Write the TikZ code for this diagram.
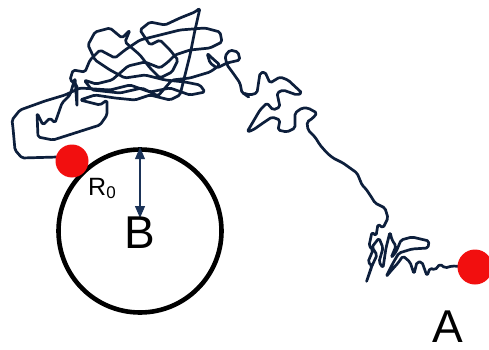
\documentclass[tikz,border=0pt]{standalone}
\usepackage{fontspec}
\setmainfont{Liberation Sans}
\usetikzlibrary{arrows.meta}
\definecolor{walk}{HTML}{0D1F3C}
\definecolor{arrowblue}{HTML}{1B3358}
\definecolor{dotred}{HTML}{F20F0F}
\tikzset{
  walkline/.style={draw=walk, line width=2.7pt, line join=round, line cap=round, rounded corners=1.8pt},
  reddot/.style={circle, fill=dotred, inner sep=0pt, minimum size=#1},
  bigletter/.style={font=\fontsize{46}{46}\selectfont, inner sep=0pt},
  radius arrow/.style={draw=arrowblue, line width=1.1pt, {Triangle[width=10pt,length=12pt]}-{Triangle[width=10pt,length=12pt]}}
}
\begin{document}
\begin{tikzpicture}[x=1pt,y=-1pt]
\useasboundingbox (0,0) rectangle (489,350);

% absorbing sphere
\node[circle, draw=black, line width=4.6pt, minimum size=163pt, inner sep=0pt] (disk) at (140,231) {};
\coordinate (rtip) at (140,218);

% random walk trajectory
\draw[walkline] (72,161) -- (58,157) -- (22,158) -- (15,150) -- (13,128) -- (12,120) -- (20,110) -- (45,101) -- (65,95)
  -- (80,88) -- (110,90) -- (130,85) -- (150,92) -- (170,88) -- (190,95) -- (205,92) -- (200,85) -- (185,82)
  -- (165,80) -- (145,75) -- (125,78) -- (110,70) -- (95,60) -- (88,45) -- (95,32) -- (110,28) -- (122,38)
  -- (130,30) -- (125,42) -- (140,55) -- (150,68) -- (160,78) -- (172,72) -- (178,60) -- (170,50) -- (160,40)
  -- (150,45) -- (140,30) -- (150,22) -- (165,25) -- (180,18) -- (195,12) -- (200,8) -- (195,30) -- (190,55)
  -- (185,75) -- (180,95) -- (170,100) -- (150,95) -- (135,100) -- (115,98) -- (95,95) -- (80,100)
  -- (100,105) -- (107,100) -- (107,115) -- (100,125) -- (53,140) -- (38,137) -- (37,113) -- (43,125)
  -- (50,118) -- (55,123) -- (62,103) -- (70,95) -- (75,78) -- (77,107) -- (77,85)
  -- (70,80) -- (73,70) -- (85,72) -- (90,60) -- (100,50) -- (115,58) -- (125,50) -- (140,40) -- (160,35)
  -- (180,30) -- (205,28) -- (220,32) -- (222,42) -- (210,48) -- (190,50) -- (175,55) -- (168,62) -- (160,68)
  -- (145,62) -- (128,66) -- (112,80) -- (96,84) -- (84,80) -- (92,90) -- (120,93) -- (142,88) -- (158,96)
  -- (172,80) -- (190,78) -- (210,72) -- (220,65) -- (212,58) -- (207,53) -- (210,63) -- (217,68) -- (227,63)
  -- (240,60) -- (238,52) -- (230,50) -- (225,56) -- (227,65) -- (233,73) -- (240,83) -- (242,93) -- (247,95)
  -- (250,98) -- (243,93) -- (250,95) -- (257,93) -- (260,73) -- (265,72) -- (270,83) -- (280,77) -- (288,80)
  -- (302,93) -- (297,95) -- (283,90) -- (277,93) -- (280,107) -- (273,110) -- (267,103) -- (260,110)
  -- (250,127) -- (247,132) -- (253,130) -- (263,123) -- (272,117) -- (280,120) -- (278,130) -- (287,132)
  -- (295,128) -- (295,113) -- (302,108) -- (308,108) -- (317,113) -- (313,118) -- (307,122) -- (308,130)
  -- (315,137) -- (320,145) -- (327,153) -- (333,158) -- (343,163) -- (350,168) -- (357,173) -- (360,180)
  -- (362,185) -- (366,189) -- (372,198) -- (375,203) -- (385,208) -- (388,218) -- (383,228) -- (378,224)
  -- (376,236) -- (372,232) -- (369,246) -- (373,250) -- (368,262) -- (372,266) -- (366,283) -- (371,268)
  -- (377,255) -- (372,247) -- (379,238) -- (383,248) -- (379,262) -- (383,268) -- (386,248) -- (390,232)
  -- (392,240) -- (396,246) -- (391,258) -- (396,252) -- (401,240) -- (412,237) -- (429,241) -- (428,248)
  -- (412,249) -- (399,253) -- (393,263) -- (386,277) -- (390,272) -- (398,263) -- (403,256) -- (410,262)
  -- (414,274) -- (417,262) -- (422,262) -- (427,276) -- (430,268) -- (435,270)
  -- (440,264) -- (445,268) -- (452,266) -- (475,267);

% start and end points
\node[reddot=33pt] (pB) at (72,161) {};
\node[reddot=35pt] (pA) at (475,267) {};

% capture radius
\draw[radius arrow] (disk.north) -- (rtip);
\node[font=\fontsize{25}{25}\selectfont, inner sep=0pt, anchor=base west] (rlabel) at (88,195) {R\textsubscript{\fontsize{17}{17}\selectfont 0}};

% labels
\node[bigletter] (labB) at (139.5,233) {B};
\node[bigletter, anchor=base] (labA) at (448,342) {A};
\end{tikzpicture}
\end{document}
